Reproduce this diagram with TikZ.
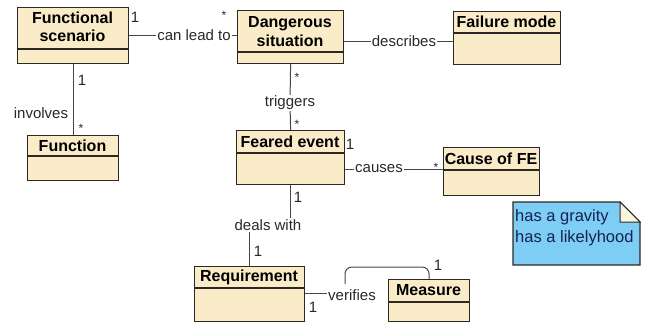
\documentclass[tikz,border=0pt]{standalone}
\usepackage{fontspec}
\setmainfont{Liberation Sans}
\usetikzlibrary{calc}
\definecolor{boxfill}{RGB}{250,236,200}
\definecolor{boxline}{RGB}{45,40,35}
\definecolor{conncol}{RGB}{70,70,70}
\definecolor{lblcol}{RGB}{40,40,40}
\definecolor{notefill}{RGB}{125,205,245}
\definecolor{notetext}{RGB}{20,35,80}
\definecolor{foldfill}{RGB}{250,245,225}
\tikzset{
  umlbox/.style={draw=boxline, fill=boxfill, line width=1.2pt, inner sep=0pt, anchor=north west},
  divline/.style={draw=boxline, line width=1.2pt},
  ttl/.style={font=\bfseries\fontsize{16}{18.5}\selectfont, align=center, inner sep=0pt, text=black},
  lbl/.style={font=\fontsize{15}{17}\selectfont, inner sep=1pt, text=lblcol},
  mult/.style={font=\fontsize{15}{17}\selectfont, inner sep=0pt, text=lblcol},
  star/.style={font=\fontsize{12}{14}\selectfont, inner sep=0pt, text=lblcol},
  conn/.style={draw=conncol, line width=1pt},
}
\begin{document}
\begin{tikzpicture}[x=1pt,y=-1pt]
\useasboundingbox (0,0) rectangle (649,327);

% ---- boxes ----
\node[umlbox, minimum width=111pt, minimum height=56pt] (fs) at (17,7) {};
\draw[divline] (17,49) -- (128,49);
\node[ttl] (fst) at (72.5,27) {Functional\\scenario};

\node[umlbox, minimum width=106pt, minimum height=53pt] (ds) at (237,10) {};
\draw[divline] (237,52) -- (343,52);
\node[ttl] (dst) at (290,31.5) {Dangerous\\situation};

\node[umlbox, minimum width=107pt, minimum height=53pt] (fm) at (453,11) {};
\draw[divline] (453,33) -- (560,33);
\node[ttl] (fmt) at (506.5,22) {Failure mode};

\node[umlbox, minimum width=91pt, minimum height=45pt] (fn) at (27,135) {};
\draw[divline] (27,156) -- (118,156);
\node[ttl] (fnt) at (72.5,145.5) {Function};

\node[umlbox, minimum width=108pt, minimum height=54pt] (fe) at (236,130) {};
\draw[divline] (236,153) -- (344,153);
\node[ttl] (fet) at (290,141.5) {Feared event};

\node[umlbox, minimum width=96pt, minimum height=48pt] (cf) at (443,147) {};
\draw[divline] (443,170) -- (539,170);
\node[ttl] (cft) at (491,158.5) {Cause of FE};

\node[umlbox, minimum width=110pt, minimum height=55pt] (rq) at (194,266) {};
\draw[divline] (194,288) -- (304,288);
\node[ttl] (rqt) at (249,277) {Requirement};

\node[umlbox, minimum width=81pt, minimum height=42pt] (ms) at (388,279) {};
\draw[divline] (388,302) -- (469,302);
\node[ttl] (mst) at (428.5,290.5) {Measure};

% ---- note ----
\draw[draw=boxline, fill=notefill, line width=1.2pt]
  (513,202) -- (620,202) -- (640,222) -- (640,265) -- (513,265) -- cycle;
\draw[draw=boxline, fill=foldfill, line width=1pt]
  (620,202) -- (620,222) -- (640,222) -- cycle;
\node[font=\fontsize{16.5}{21}\selectfont, text=notetext, align=left, anchor=north west, inner sep=0pt]
  (nt) at (515,209) {has a gravity\\has a likelyhood};

% ---- labels ----
\node[lbl] (cl) at (194,35) {can lead to};
\node[lbl] (dsc) at (404,41) {describes};
\node[lbl] (inv) at (41,113) {involves};
\node[lbl] (tg) at (290,103) {triggers};
\node[lbl] (cs) at (379,169) {causes};
\node[lbl] (dw) at (268,225) {deals with};
\node[lbl] (vf) at (352,295) {verifies};

% ---- multiplicities ----
\node[mult] (m1) at (135,17) {1};
\node[star] (m2) at (224,15) {*};
\node[mult] (m3) at (82,80) {1};
\node[star] (m4) at (81,128) {*};
\node[star] (m5) at (297,77) {*};
\node[star] (m6) at (297,124) {*};
\node[mult] (m7) at (350,144) {1};
\node[star] (m8) at (436,167) {*};
\node[mult] (m9) at (298,197) {1};
\node[mult] (m10) at (258,251) {1};
\node[mult] (m11) at (438,265) {1};
\node[mult] (m12) at (313,307) {1};

% ---- connectors ----
\draw[conn] (fs.east |- cl) -- (cl) -- (ds.west |- cl);
\draw[conn] (ds.east |- dsc) -- (dsc) -- (fm.west |- dsc);
\draw[conn] (fs.south) -- (fn.north);
\draw[conn] (ds.south) -- (tg) -- (fe.north);
\draw[conn] (fe.south) -- (fe.south |- dw.north);
\draw[conn] (rq.north |- dw.south) -- (rq.north);
\draw[conn] (fe.east |- cs) -- (cs) -- (cf.west |- cs);
\draw[conn] (rq.east |- 0,293) -- (vf.west |- 0,293);
\coordinate (vfa) at (345,284);
\draw[conn, rounded corners=7pt] (vfa) -- ++(0,-17) -| (ms.north);
\end{tikzpicture}
\end{document}
